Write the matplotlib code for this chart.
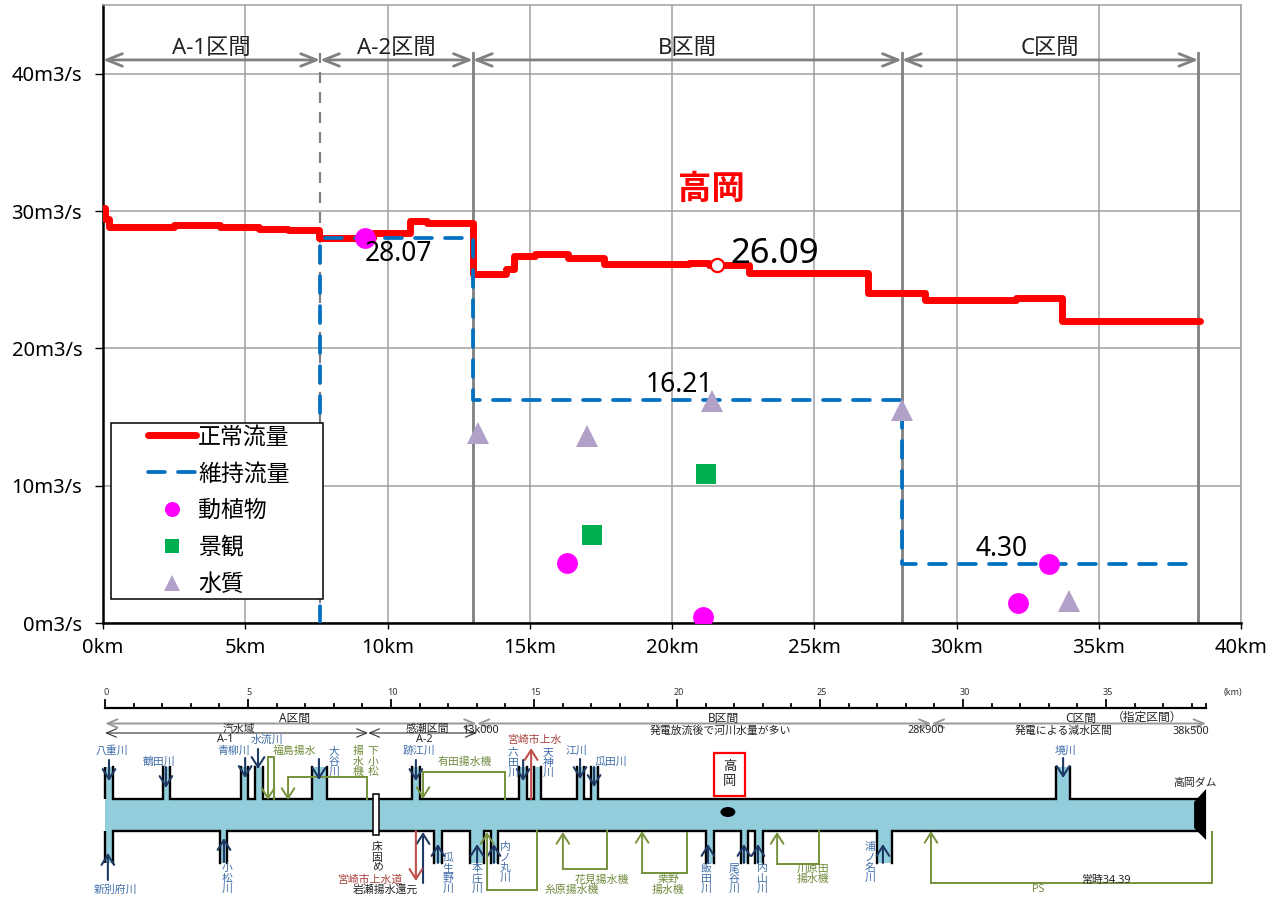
import matplotlib
matplotlib.use("Agg")
import matplotlib.pyplot as plt
from matplotlib.legend_handler import HandlerLine2D
from matplotlib.lines import Line2D
from matplotlib.patches import Ellipse, Polygon, Rectangle

plt.rcParams["font.family"] = ["Noto Sans", "Noto Sans CJK JP", "DejaVu Sans"]

# -----------------------------
# 1) Upper chart (km, m3/s)
# -----------------------------
FLOW_X = [0, 0.08, 0.2, 2.5, 4.1, 5.5, 6.5, 7.6, 9.5, 10.8, 11.4, 13.0, 14.18, 14.45, 15.2,
          16.35, 17.6, 20.6, 21.3, 22.7, 26.9, 28.9, 32.1, 33.7, 38.55]
FLOW_Y = [30.2, 29.4, 28.85, 28.95, 28.8, 28.7, 28.6, 28.03, 28.38, 29.27, 29.15, 25.4, 25.8, 26.7, 26.85,
          26.6, 26.15, 26.22, 26.09, 25.5, 24.0, 23.55, 23.7, 22.0, 22.0]
# each FLOW_Y value holds until the next FLOW_X

KEEP_X = [7.63, 7.63, 13.0, 13.0, 28.08, 28.08, 38.5]
KEEP_Y = [0, 28.07, 28.07, 16.21, 16.21, 4.30, 4.30]

BIO_X = [9.2, 16.3, 21.1, 33.25, 32.15]
BIO_Y = [28.07, 4.36, 0.44, 4.29, 1.45]
VIEW_X = [17.2, 21.2]
VIEW_Y = [6.4, 10.84]
WATER_X = [13.18, 17.0, 21.4, 28.08, 33.95]
WATER_Y = [13.8, 13.6, 16.2, 15.5, 1.6]

POINT_X = [21.58]
POINT_Y = [26.09]

SECTION_EDGES = [0, 7.63, 13.0, 28.08, 38.5]
SECTION_NAMES = ["A-1区間", "A-2区間", "B区間", "C区間"]
VALUE_LABELS = [("28.07", 10.4, 26.9, 19), ("16.21", 20.25, 17.3, 19), ("4.30", 31.57, 5.4, 19), ("26.09", 23.6, 26.9, 25)]

XTICKS = [0, 5, 10, 15, 20, 25, 30, 35, 40]
YTICKS = [0, 10, 20, 30, 40]

# -----------------------------
# 2) River schematic (x in km, y in picture rows)
# -----------------------------
TOP_TRIBS = [(0, 0.28), (2.03, 2.27), (4.76, 5.0), (5.24, 5.52), (7.24, 7.76), (10.73, 11.0),
             (14.48, 14.76), (15.0, 15.24), (16.5, 16.75), (17.0, 17.24), (33.25, 33.75)]
BOTTOM_TRIBS = [(0, 0.28), (4.02, 4.27), (11.5, 11.78), (12.76, 13.25), (13.5, 13.74),
                (21.0, 21.28), (22.23, 22.48), (22.73, 23.0), (27.0, 27.52)]

NAVY_ARROWS = [(0.14, 760, 781), (2.13, 767, 788), (4.90, 758, 778), (5.35, 749, 769), (7.48, 759, 780),
               (10.87, 760, 781), (14.62, 760, 781), (16.61, 759, 779), (17.10, 767, 787), (33.50, 758, 778),
               (0.10, 880, 853), (4.16, 862, 838), (11.12, 883, 832), (11.64, 863, 844), (13.01, 863, 844),
               (13.60, 863, 844), (21.08, 863, 844), (22.34, 863, 844), (22.83, 863, 844), (27.20, 863, 844)]
RED_ARROWS = [(14.90, 799, 748), (10.87, 831, 881)]

# start x, end x (arrow head), turning row, start row, end row
GREEN_LOOPS = [(5.91, 5.70, 757, 799, 800), (9.16, 6.40, 777, 799, 800), (13.99, 11.12, 772, 799, 799),
               (15.10, 13.36, 890, 831, 832), (17.55, 16.01, 869, 831, 832), (20.35, 18.78, 873, 833, 831),
               (24.97, 23.50, 864, 831, 832), (38.71, 28.88, 883, 832, 831)]

BLUE_LABELS = [("八重川", 0.24, 751), ("鶴田川", 1.89, 762), ("青柳川", 4.51, 751), ("水流川", 5.66, 740),
               ("大\n谷\n川", 8.01, 762), ("跡江川", 10.98, 751), ("六\n田\n川", 14.27, 763), ("天\n神\n川", 15.49, 763),
               ("江川", 16.47, 751), ("瓜田川", 17.69, 762), ("境川", 33.60, 751),
               ("新別府川", 0.38, 890), ("小\n松\n川", 4.27, 879), ("瓜\n生\n野\n川", 11.99, 874),
               ("本\n庄\n川", 13.01, 879), ("内\nノ\n丸\n川", 13.99, 863), ("飯\n田\n川", 21.01, 879),
               ("尾\n谷\n川", 21.99, 879), ("内\n山\n川", 22.97, 879), ("浦\nノ\n名\n川", 26.75, 863)]
GREEN_LABELS = [("福島揚水", 6.61, 751), ("揚\n水\n機", 8.85, 762), ("下\n小\n松", 9.37, 762), ("有田揚水機", 12.59, 762),
                ("糸原揚水機", 16.33, 890), ("花見揚水機", 17.38, 880), ("栗野\n揚水機", 19.69, 885),
                ("川原田\n揚水機", 24.76, 874), ("PS", 32.62, 889)]
RED_LABELS = [("宮崎市上水", 15.0, 740), ("宮崎市上水道", 9.27, 880)]
DARK_LABELS = [("床\n固\nめ", 9.51, 858), ("岩瀬揚水還元", 9.79, 890), ("常時34.39", 35.0, 880), ("高岡ダム", 38.11, 783),
               ("A-1", 4.20, 739), ("A-2", 11.15, 739), ("汽水域", 4.69, 729), ("感潮区間", 11.29, 729),
               ("13k000", 13.11, 730), ("発電放流後で河川水量が多い", 21.5, 731), ("28k900", 28.71, 730),
               ("発電による減水区間", 33.53, 731), ("38k500", 37.97, 731)]
ZONE_LABELS = [("A区間", 6.64, 718), ("B区間", 21.61, 718), ("C区間", 34.13, 718), ("（指定区間）", 36.43, 717)]
ZONE_EDGES = [0, 13.0, 28.9, 38.5]
SUB_EDGES = [0, 9.2, 13.0]
RULER_KM = list(range(0, 39)) + [38.5]
RULER_LABELS = [0, 5, 10, 15, 20, 25, 30, 35]

W, H = 1284, 897
GRID = "#a0a0a0"
SEC = "#808080"
NAVY = "#1f3864"
OLIVE = "#76923c"
RED2 = "#c0504d"
RIVER = "#92cddc"


class PadHandler(HandlerLine2D):
    # keep the legend lines short, with empty room on their left
    def create_artists(self, legend, orig_handle, xdescent, ydescent, width, height, fontsize, trans):
        pad = width * 0.42
        return super().create_artists(legend, orig_handle, xdescent - pad, ydescent, width - pad,
                                      height, fontsize, trans)


def plot_chart(ax):
    ax.set_xlim(0, 40)
    ax.set_ylim(0, 45)
    ax.set_xticks(XTICKS)
    ax.set_xticklabels([f"{v}km" for v in XTICKS])
    ax.set_yticks(YTICKS)
    ax.set_yticklabels([f"{v}m3/s" for v in YTICKS])
    ax.tick_params(axis="y", length=6, width=1, pad=9, labelsize=14.5)
    ax.tick_params(axis="x", length=4, width=1, pad=7, labelsize=14.5)
    ax.grid(True, color=GRID, linewidth=1.1)
    ax.set_axisbelow(True)
    for side in ["top", "right"]:
        ax.spines[side].set_color(GRID)
        ax.spines[side].set_linewidth(1.1)
    for side in ["left", "bottom"]:
        ax.spines[side].set_linewidth(1.8)

    ax.plot([SECTION_EDGES[1]] * 2, [0, 41.5], color=SEC, lw=1.6, ls=(0, (5, 4)), zorder=2)
    for x in SECTION_EDGES[2:]:
        ax.plot([x, x], [0, 41.5], color=SEC, lw=2.0, zorder=2)
    for i, name in enumerate(SECTION_NAMES):
        x0, x1 = SECTION_EDGES[i], SECTION_EDGES[i + 1]
        ax.annotate("", xy=(x1, 41), xytext=(x0, 41),
                    arrowprops=dict(arrowstyle="<->,head_length=0.75,head_width=0.3", color=SEC, lw=2,
                                    shrinkA=0, shrinkB=0, mutation_scale=15))
        ax.text((x0 + x1) / 2, 41.05, name, ha="center", va="bottom", fontsize=16, color="#222222")

    keep, = ax.plot(KEEP_X, KEEP_Y, color="#0070c0", lw=2.7, dashes=(4.5, 3.5), dash_capstyle="round",
                    zorder=4, label="維持流量")
    flow, = ax.step(FLOW_X, FLOW_Y, where="post", color="#ff0000", lw=5, solid_joinstyle="round",
                    solid_capstyle="round", zorder=3, label="正常流量")
    bio, = ax.plot(BIO_X, BIO_Y, "o", color="#ff00ff", ms=15, mew=0, zorder=5, label="動植物")
    view, = ax.plot(VIEW_X, VIEW_Y, "s", color="#00b050", ms=14.5, mew=0, zorder=5, label="景観")
    water, = ax.plot(WATER_X, WATER_Y, "^", color="#b1a0c7", ms=16, mew=0, zorder=5, label="水質")
    ax.plot(POINT_X, POINT_Y, "o", mfc="white", mec="#ff0000", mew=1.6, ms=9.5, zorder=6)

    for txt, x, y, size in VALUE_LABELS:
        ax.text(x, y, txt, ha="center", va="center", fontsize=size, color="black", zorder=7)
    ax.text(21.4, 31.5, "高岡", ha="center", va="center", fontsize=24, color="#ff0000",
            fontweight="bold")

    leg = ax.legend(handles=[flow, keep, bio, view, water], loc="lower left",
                    bbox_to_anchor=(8 / 1138, 24 / 618, 212 / 1138, 176 / 618), mode="expand",
                    borderaxespad=0, borderpad=0.1, fancybox=False, framealpha=1, edgecolor="black",
                    fontsize=16.5, labelspacing=0.56, handlelength=3.6, handletextpad=0.1, numpoints=1,
                    markerscale=0.72, handler_map={Line2D: PadHandler()})
    leg.get_frame().set_linewidth(1.1)
    leg.set_zorder(8)


def put_labels(ax, rows, color, size=7.8):
    for txt, x, y in rows:
        ax.text(x, y, txt, ha="center", va="center", color=color, fontsize=size, linespacing=0.88)


def arrow(ax, x0, y0, x1, y1, color, lw=1.5):
    ax.annotate("", xy=(x1, y1), xytext=(x0, y0),
                arrowprops=dict(arrowstyle="->,head_length=0.55,head_width=0.35", color=color, lw=lw,
                                shrinkA=0, shrinkB=0, mutation_scale=13))


def walls(ax, tribs, wall_y, end_y, stop_km):
    left = tribs[0][0]
    ax.plot([left, left], [wall_y, end_y], color="black", lw=1.7, solid_capstyle="butt")
    pos = None
    for x0, x1 in tribs:
        ax.add_patch(Rectangle((x0, min(wall_y, end_y)), x1 - x0, abs(wall_y - end_y), fc=RIVER, ec="none"))
        if pos is not None:
            ax.plot([pos, pos, x0, x0], [end_y, wall_y, wall_y, end_y], color="black", lw=1.7,
                    solid_joinstyle="miter")
        pos = x1
    ax.plot([pos, pos, stop_km], [end_y, wall_y, wall_y], color="black", lw=1.7, solid_joinstyle="miter")


def plot_river(ax):
    ax.set_xlim((0 - 105) / 28.6, (W - 105) / 28.6)
    ax.set_ylim(897, 680)
    ax.axis("off")

    # ruler
    ax.plot([0, 38.5], [708, 708], color="black", lw=1.6)
    for km in RULER_KM:
        top = 700 if km in RULER_LABELS else 703.5
        ax.plot([km, km], [708, top], color="black", lw=1.3)
    for km in RULER_LABELS:
        ax.text(km + 0.05, 692, str(km), ha="center", va="center", fontsize=6.5, color="#333333")
    ax.text(39.1, 692, "(km)", ha="left", va="center", fontsize=6.5, color="#333333")

    # section brackets
    for i in range(len(ZONE_EDGES) - 1):
        ax.annotate("", xy=(ZONE_EDGES[i + 1], 723.5), xytext=(ZONE_EDGES[i], 723.5),
                    arrowprops=dict(arrowstyle="<->,head_length=0.6,head_width=0.25", color="#999999", lw=1.4,
                                    shrinkA=0, shrinkB=0, mutation_scale=12))
    for i in range(len(SUB_EDGES) - 1):
        ax.annotate("", xy=(SUB_EDGES[i + 1], 733), xytext=(SUB_EDGES[i], 733),
                    arrowprops=dict(arrowstyle="<->,head_length=0.6,head_width=0.25", color="#333333", lw=0.8,
                                    shrinkA=0, shrinkB=0, mutation_scale=12))

    # river body and side streams
    ax.add_patch(Rectangle((0, 799), 38.5, 32, fc=RIVER, ec="none"))
    walls(ax, TOP_TRIBS, 799, 767, 38.2)
    walls(ax, BOTTOM_TRIBS, 831, 863, 38.2)

    ax.add_patch(Rectangle((9.37, 794), 0.21, 41, fc="white", ec="black", lw=1.1, zorder=3))
    ax.add_patch(Ellipse((21.78, 812), 0.52, 10, fc="black", ec="none", zorder=3))
    ax.add_patch(Polygon([(38.08, 802), (38.5, 789), (38.5, 840), (38.08, 828)], fc="black", ec="none", zorder=3))
    ax.add_patch(Rectangle((21.29, 753), 1.09, 43, fc="white", ec="#ff0000", lw=1.6, zorder=3))
    ax.text(21.84, 774, "高\n岡", ha="center", va="center", fontsize=9.5, color="#222222", zorder=4)

    for x, y0, y1 in NAVY_ARROWS:
        arrow(ax, x, y0, x, y1, NAVY)
    for x, y0, y1 in RED_ARROWS:
        arrow(ax, x, y0, x, y1, RED2)
    for x0, x1, turn, y0, y1 in GREEN_LOOPS:
        ax.plot([x0, x0, x1], [y0, turn, turn], color=OLIVE, lw=1.4, solid_joinstyle="miter")
        arrow(ax, x1, turn, x1, y1, OLIVE, lw=1.4)

    put_labels(ax, BLUE_LABELS, "#3f6ea8")
    put_labels(ax, GREEN_LABELS, "#6f8a3a")
    put_labels(ax, RED_LABELS, "#a8433f")
    put_labels(ax, DARK_LABELS, "#222222")
    put_labels(ax, ZONE_LABELS, "#222222", size=8.5)


def main():
    fig = plt.figure(figsize=(W / 100, H / 100), dpi=100)
    ax = fig.add_axes([103 / W, (H - 623) / H, 1138 / W, 618 / H])
    plot_chart(ax)
    ax2 = fig.add_axes([0, 0, 1, (H - 680) / H])
    plot_river(ax2)
    fig.savefig("out.png", dpi=100)
    plt.close(fig)


if __name__ == "__main__":
    main()
